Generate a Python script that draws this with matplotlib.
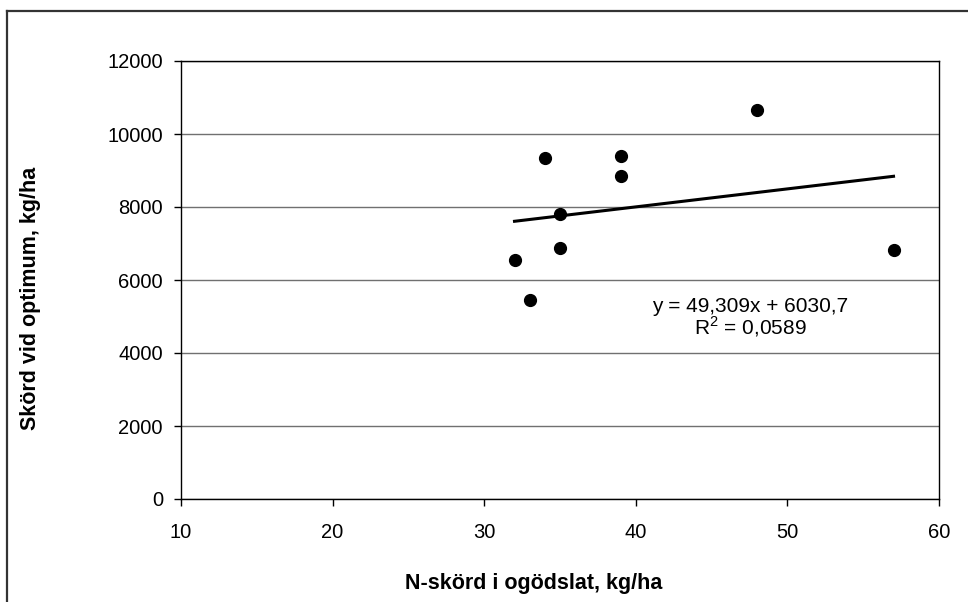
import matplotlib
matplotlib.use("Agg")
import matplotlib.pyplot as plt
from matplotlib.lines import Line2D
import numpy as np

# Data
n_harvest = [32, 33, 34, 35, 35, 39, 39, 48, 57]
yield_opt = [6550, 5450, 9350, 7800, 6880, 9400, 8850, 10650, 6820]
slope = 49.309
intercept = 6030.7
r2_text = "0,0589"
eq_text = "y = 49,309x + 6030,7"
x_ticks = [10, 20, 30, 40, 50, 60]
y_ticks = [0, 2000, 4000, 6000, 8000, 10000, 12000]
xlabel = "N-skörd i ogödslat, kg/ha"
ylabel = "Skörd vid optimum, kg/ha"

plt.rcParams['font.family'] = ['Liberation Sans', 'DejaVu Sans']
plt.rcParams['mathtext.fontset'] = 'custom'
plt.rcParams['mathtext.rm'] = 'Liberation Sans'

W, H = 968, 602
fig = plt.figure(figsize=(W / 100, H / 100), dpi=100)
ax = fig.add_axes([181 / W, 1 - 499 / H, (939 - 181) / W, (499 - 61) / H])

ax.set_xlim(10, 60)
ax.set_ylim(0, 12000)
ax.set_xticks(x_ticks)
ax.set_yticks(y_ticks)
ax.set_xticklabels([str(t) for t in x_ticks])
ax.set_yticklabels([str(t) for t in y_ticks])

ax.yaxis.grid(True, color='#707070', linewidth=1.0)
ax.set_axisbelow(True)
for s in ax.spines.values():
    s.set_color('black')
    s.set_linewidth(1.0)

ax.tick_params(axis='both', direction='out', length=5, width=1, colors='black',
               labelsize=14.5)
ax.tick_params(axis='y', pad=8)
ax.tick_params(axis='x', pad=12)

# scatter points
ax.plot(n_harvest, yield_opt, linestyle='none', marker='o', markersize=8.5,
        color='black', zorder=3)

# trendline
xs = np.array([min(n_harvest), max(n_harvest)])
ax.plot(xs, slope * xs + intercept, color='black', linewidth=2.2, zorder=3)

# equation text
fig.text(750 / W, 1 - 311.5 / H, eq_text, ha='center', va='baseline', fontsize=15)
fig.text(750 / W, 1 - 334 / H, r"R$^{2}$ = " + r2_text, ha='center', va='baseline',
         fontsize=15)

# axis labels
fig.text(534 / W, 1 - 583 / H, xlabel, ha='center', va='center', fontsize=15.5,
         fontweight='bold')
fig.text(31 / W, 1 - 298 / H, ylabel, ha='center', va='center', fontsize=15.5,
         fontweight='bold', rotation=90)

# chart border (left and top visible)
fig.add_artist(Line2D([7 / W, 7 / W], [1 - 11 / H, 0], transform=fig.transFigure,
                      color='#333333', linewidth=1.6))
fig.add_artist(Line2D([7 / W, 1], [1 - 11 / H, 1 - 11 / H], transform=fig.transFigure,
                      color='#333333', linewidth=1.6))

fig.savefig("out.png", dpi=100)
